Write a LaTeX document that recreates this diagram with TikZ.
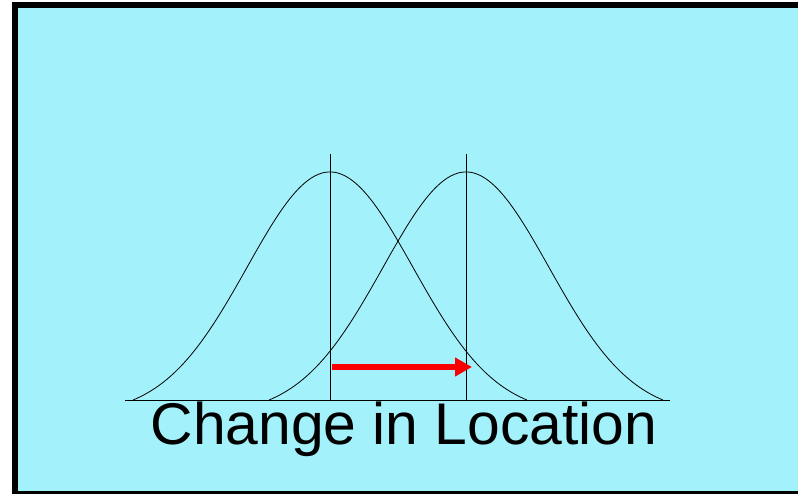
\documentclass[tikz,border=0pt]{standalone}
\definecolor{skyfill}{RGB}{163, 241, 251}
\definecolor{shiftred}{RGB}{250, 0, 0}
\usepackage{fontspec}
\setmainfont{Liberation Sans}
\usepackage{tikz}
\usetikzlibrary{arrows.meta, positioning, calc}

\begin{document}
\begin{tikzpicture}[x=1pt, y=-1pt, >=Stealth,
    curve/.style={draw=black, line width=0.8pt},
    meanline/.style={draw=black, line width=0.9pt},
    movearrow/.style={draw=shiftred, line width=5.5pt, -{Triangle[length=17pt, width=18pt]}}]
        \useasboundingbox (0,0) rectangle (798,494);
        \draw[line width=6pt, fill=skyfill] (15,5) rectangle (820,494);
        % baseline and the two means
        \coordinate (axl) at (125,400);
        \coordinate (axr) at (670,400);
        \coordinate (mu1) at (330,400);
        \coordinate (mu2) at (466,400);
        \draw[meanline] (axl) -- (axr);
        \draw[meanline] (mu1) -- ++(0,-246) coordinate (top1);
        \draw[meanline] (mu2) -- ++(0,-246) coordinate (top2);
        % the two bell curves
        \foreach \m in {mu1, mu2} {
          \draw[curve, shift={(\m)}] plot[domain=-1.97:1.97, samples=120, smooth]
            ({100*\x}, {-228*(exp(-(\x*\x)/1.3778)-0.0598)/0.9402});
        }
        % shift of location
        \coordinate (arrowstart) at ($(mu1)+(2,-33)$);
        \coordinate (arrowend) at ($(mu2)+(6,-33)$);
        \draw[movearrow] (arrowstart) -- (arrowend);
        \node[anchor=base, inner sep=0pt, font=\fontsize{58.8}{60}\selectfont] (caption) at (404,444) {Change in Location};
      \end{tikzpicture}
\end{document}
